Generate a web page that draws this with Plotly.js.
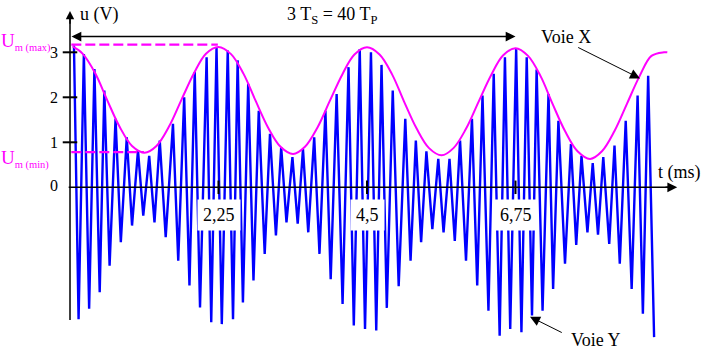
<!DOCTYPE html>
<html>
<head>
<meta charset="utf-8">
<script src="https://cdn.plot.ly/plotly-3.0.1.min.js"></script>
<style>html,body{margin:0;padding:0;background:#fff;}#chart{width:708px;height:354px;}</style>
</head>
<body>
<div id="chart"></div>
<script>
// ---- Data ----
// Voie Y : extremes of the sampled carrier (t in ms, u in V)
const peakT = [0.06,0.21,0.37,0.52,0.69,0.86,1.03,1.20,1.36,1.56,1.73,1.89,2.07,2.22,2.39,2.54,2.70,2.86,3.03,3.20,3.37,3.53,3.70,3.87,4.04,4.22,4.39,4.56,4.72,4.89,5.08,5.24,5.40,5.58,5.75,5.91,6.09,6.25,6.42,6.59,6.76,6.92,7.07,7.25,7.40,7.59,7.75,7.92,8.08,8.25,8.42,8.60,8.76];
const peakV = [3.15,2.96,2.63,2.15,1.52,1.11,0.82,0.70,1.04,1.41,2.00,2.56,2.89,3.10,3.04,2.82,2.30,1.70,1.19,0.89,0.67,0.85,1.11,1.70,2.07,2.67,3.07,3.00,2.72,2.15,1.52,1.04,0.80,0.63,0.63,1.04,1.52,2.04,2.52,2.89,3.07,2.89,2.62,2.07,1.48,0.96,0.70,0.54,0.67,0.93,1.48,2.04,2.48];
const troughT = [0.13,0.29,0.45,0.60,0.77,0.94,1.11,1.28,1.45,1.64,1.81,1.97,2.14,2.30,2.47,2.62,2.78,2.95,3.12,3.28,3.45,3.61,3.78,3.95,4.13,4.30,4.47,4.64,4.80,4.98,5.16,5.32,5.49,5.66,5.83,6.00,6.17,6.34,6.51,6.67,6.84,7.00,7.16,7.32,7.50,7.67,7.84,8.00,8.17,8.33,8.51,8.68,8.85];
const troughV = [-2.93,-2.70,-2.33,-1.74,-1.22,-0.85,-0.63,-0.78,-1.11,-1.63,-2.18,-2.67,-3.00,-3.04,-2.93,-2.56,-2.07,-1.48,-1.07,-0.78,-0.81,-1.00,-1.48,-2.04,-2.59,-3.07,-3.15,-3.18,-2.68,-2.20,-1.63,-1.22,-0.93,-1.00,-1.19,-1.63,-2.18,-2.74,-3.30,-3.15,-3.22,-2.85,-2.74,-2.26,-1.70,-1.28,-1.00,-1.05,-1.26,-1.70,-2.26,-2.81,-3.33];

// Voie X : envelope Um(t)
const envT = [0.04,0.19,0.38,0.56,0.75,0.94,1.13,1.31,1.50,1.69,1.88,2.06,2.25,2.44,2.63,2.81,3.00,3.19,3.38,3.56,3.75,3.94,4.13,4.31,4.50,4.69,4.88,5.06,5.25,5.44,5.63,5.81,6.00,6.19,6.38,6.56,6.75,6.94,7.13,7.31,7.50,7.69,7.88,8.06,8.25,8.44,8.63,8.81,9.00,9.05];
const envV = [3.13,2.97,2.54,1.95,1.35,0.92,0.77,0.92,1.35,1.95,2.54,2.97,3.12,2.96,2.52,1.93,1.33,0.90,0.74,0.90,1.33,1.93,2.52,2.95,3.11,2.95,2.51,1.91,1.31,0.87,0.71,0.87,1.30,1.90,2.49,2.93,3.09,2.92,2.47,1.86,1.25,0.80,0.63,0.80,1.25,1.86,2.47,2.92,3.00,3.00];

const UmMax = 3.17, UmMaxT = 2.24;
const UmMin = 0.78, UmMinT = 1.12;
const xTickVals = [2.25, 4.5, 6.75];
const xTickLabels = ['2,25', '4,5', '6,75'];
const yTickVals = [0, 1, 2, 3];
const yTickLabels = ['0', '1', '2', '3'];
const spanEnd = 6.75; // 3 Ts

// ---- build traces ----
const yT = [], yV = [];
for (let i = 0; i < peakT.length; i++) {
  yT.push(peakT[i]); yV.push(peakV[i]);
  if (i < troughT.length) { yT.push(troughT[i]); yV.push(troughV[i]); }
}

const FONT = "'Liberation Serif', 'Times New Roman', serif";
const traces = [
  {x: yT, y: yV, type: 'scatter', mode: 'lines', line: {color: '#0000ff', width: 2.4}, hoverinfo: 'skip'},
  {x: envT, y: envV, type: 'scatter', mode: 'lines', line: {color: '#ff00ff', width: 2, shape: 'spline', smoothing: 1}, hoverinfo: 'skip'}
];

const shapes = [];
yTickVals.forEach(v => { if (v !== 0) shapes.push({type: 'line', x0: -0.11, x1: 0.11, y0: v, y1: v, line: {color: '#000', width: 2}}); });
xTickVals.forEach(t => shapes.push({type: 'line', x0: t, x1: t, y0: 0.15, y1: -0.15, line: {color: '#000', width: 2}}));
shapes.push({type: 'line', x0: 0.02, x1: UmMaxT, y0: UmMax, y1: UmMax, line: {color: '#ff00ff', width: 2.2, dash: '10px,4px'}});
shapes.push({type: 'line', x0: 0.02, x1: UmMinT, y0: UmMin, y1: UmMin, line: {color: '#ff00ff', width: 2.2, dash: '10px,4px'}});
shapes.push({type: 'line', x0: -0.02, x1: 9.1, y0: 0, y1: 0, line: {color: '#000', width: 1.5}});
shapes.push({type: 'line', x0: 0, x1: 0, y0: -2.95, y1: 3.85, line: {color: '#000', width: 1.5}});

const txt = (text, x, y, size, extra) => Object.assign({text: text, x: x, y: y, xref: 'x', yref: 'y', showarrow: false, font: {family: FONT, size: size, color: '#000'}}, extra || {});
const arrow = (x, y, ax, ay, extra) => Object.assign({text: '', x: x, y: y, ax: ax, ay: ay, xref: 'x', yref: 'y', axref: 'x', ayref: 'y', showarrow: true, arrowhead: 2, arrowsize: 1.4, arrowwidth: 1.4, arrowcolor: '#000'}, extra || {});
const MAG = {family: FONT, size: 19, color: '#ff00ff'};

const annotations = [
  txt('u (V)', 0.44, 3.83, 18),
  txt('t (ms)', 9.24, 0.34, 18),
  txt('3 T<sub>S</sub> = 40 T<sub>P</sub>', 3.97, 3.82, 18),
  txt('Voie X', 7.52, 3.34, 18),
  txt('Voie Y', 7.97, -3.39, 18),
  txt('U<sub><span style="font-size:10.5px">m (max)</span></sub>', -1.055, 3.22, 19, {xanchor: 'left', font: MAG, borderpad: 0}),
  txt('U<sub><span style="font-size:10.5px">m (min)</span></sub>', -1.055, 0.62, 19, {xanchor: 'left', font: MAG, borderpad: 0}),
  arrow(spanEnd, 3.35, 0, 3.35, {arrowside: 'end+start', startarrowhead: 2, startarrowsize: 1.4}),
  arrow(9.2, 0, 9.0, 0, {arrowsize: 1.4}),
  arrow(0, 3.92, 0, 3.6, {arrowsize: 1.2}),
  arrow(8.636, 2.42, 7.677, 3.124, {arrowwidth: 1, arrowsize: 2}),
  arrow(6.97, -2.876, 7.474, -3.244, {arrowwidth: 1, arrowsize: 2})
];
xTickVals.forEach((t, i) => annotations.push(txt(xTickLabels[i], t, -0.62, 18, {bgcolor: '#ffffff', borderpad: 5})));
yTickVals.forEach((v, i) => annotations.push(txt(yTickLabels[i], -0.16, v + (v === 0 ? 0.05 : 0), 16, {xanchor: 'right', borderpad: 0})));

const layout = {
  width: 708, height: 354, autosize: false,
  margin: {l: 0, r: 0, t: 0, b: 0, pad: 0},
  paper_bgcolor: '#ffffff', plot_bgcolor: '#ffffff',
  showlegend: false,
  xaxis: {range: [-70/66, 638/66], showgrid: false, zeroline: false, showline: false, showticklabels: false, ticks: '', fixedrange: true},
  yaxis: {range: [(187.3-354)/45, 187.3/45], showgrid: false, zeroline: false, showline: false, showticklabels: false, ticks: '', fixedrange: true},
  shapes: shapes,
  annotations: annotations
};

Plotly.newPlot('chart', traces, layout, {staticPlot: true, displayModeBar: false});
</script>
</body>
</html>
